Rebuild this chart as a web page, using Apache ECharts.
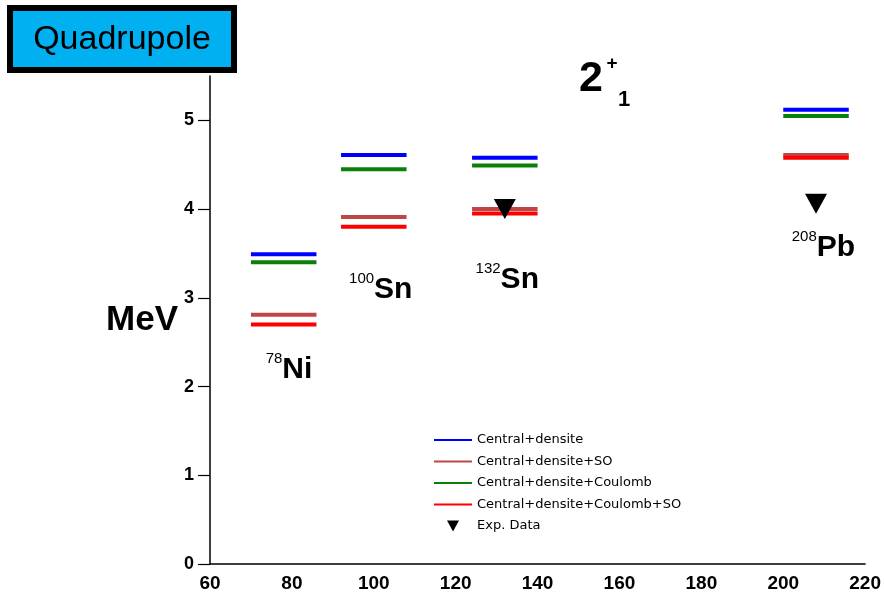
<!DOCTYPE html>
<html>
<head>
<meta charset="utf-8">
<title>Quadrupole 2+1</title>
<script src="https://cdn.jsdelivr.net/npm/echarts@6/dist/echarts.min.js"></script>
<style>
  html, body { margin: 0; padding: 0; background: #fff; }
  #chart { width: 884px; height: 594px; }
</style>
</head>
<body>
<div id="chart"></div>
<script>
// Mass number of each nucleus and its label parts
const massNumbers = [78, 100, 132, 208];
const nucleusSymbols = ['Ni', 'Sn', 'Sn', 'Pb'];
// Where each nucleus label sits (A, MeV)
const labelAnchorA = [79.3, 101.7, 132.6, 209.8];
const labelAnchorE = [2.23, 3.13, 3.24, 3.60];

// 2+1 excitation energies (MeV) for each model
const centralDensite = [3.49, 4.61, 4.58, 5.12];
const centralDensiteSO = [2.81, 3.91, 4.00, 4.61];
const centralDensiteCoulomb = [3.40, 4.45, 4.49, 5.05];
const centralDensiteCoulombSO = [2.70, 3.80, 3.95, 4.58];

// Experimental values
const expMassNumbers = [132, 208];
const expEnergies = [4.00, 4.06];

// Axis ticks
const xTicks = [60, 80, 100, 120, 140, 160, 180, 200, 220];
const yTicks = [0, 1, 2, 3, 4, 5];

const modelNames = [
  'Central+densite',
  'Central+densite+SO',
  'Central+densite+Coulomb',
  'Central+densite+Coulomb+SO'
];
const modelValues = [centralDensite, centralDensiteSO, centralDensiteCoulomb, centralDensiteCoulombSO];
const modelColors = ['#0000ff', '#bf4646', '#0a800a', '#ff0000'];
const expName = 'Exp. Data';

const HALF_WIDTH = 8; // half length of a level bar, in mass units
const FONT = '"Liberation Sans", Arial, Helvetica, sans-serif';

function levelBars(params, api) {
  const a = api.coord([api.value(0) - HALF_WIDTH, api.value(1)]);
  const b = api.coord([api.value(0) + HALF_WIDTH, api.value(1)]);
  return {
    type: 'line',
    shape: { x1: a[0], y1: a[1], x2: b[0], y2: b[1] },
    style: { stroke: api.visual('color'), lineWidth: 4 }
  };
}

const series = modelNames.map((name, i) => ({
  name: name,
  type: 'custom',
  renderItem: levelBars,
  itemStyle: { color: modelColors[i] },
  encode: { x: 0, y: 1 },
  data: massNumbers.map((a, k) => [a, modelValues[i][k]]),
  silent: true,
  z: 2 + i
}));

series.push({
  name: expName,
  type: 'scatter',
  symbol: 'triangle',
  symbolRotate: 180,
  symbolSize: [22, 20],
  itemStyle: { color: '#000', opacity: 1 },
  data: expMassNumbers.map((a, k) => [a, expEnergies[k]]),
  silent: true,
  z: 10
});

series.push({
  name: 'nuclei',
  type: 'scatter',
  symbolSize: 0,
  silent: true,
  itemStyle: { color: '#000', opacity: 1 },
  data: massNumbers.map((a, k) => [labelAnchorA[k], labelAnchorE[k], String(a), nucleusSymbols[k]]),
  label: {
    show: true,
    position: 'inside',
    color: '#000',
    formatter: p => `{sup|${p.data[2]}}{main|${p.data[3]}}`,
    rich: {
      sup: { fontSize: 15, fontFamily: FONT, color: '#000', lineHeight: 15, verticalAlign: 'top' },
      main: { fontSize: 30, fontWeight: 'bold', fontFamily: FONT, color: '#000', lineHeight: 30, padding: [7, 0, 0, 0] }
    }
  },
  z: 11
});

const lineIcon = 'path://M0,0H38V2H0Z';
const triIcon = 'path://M0,0H12L6,11Z';

const option = {
  animation: false,
  backgroundColor: '#fff',
  grid: { left: 210, right: 16, top: 76, bottom: 30 },
  legend: {
    orient: 'vertical',
    left: 434,
    top: 433,
    padding: 0,
    itemWidth: 38,
    itemHeight: 11,
    itemGap: 7.5,
    selectedMode: false,
    textStyle: { fontFamily: '"DejaVu Sans", sans-serif', fontSize: 13, color: '#000', lineHeight: 14 },
    data: modelNames.map(n => ({ name: n, icon: lineIcon })).concat([{ name: expName, icon: triIcon }])
  },
  xAxis: {
    type: 'value',
    min: 60,
    max: 220,
    interval: 20,
    axisLine: { show: true, onZero: false, lineStyle: { color: '#000', width: 1.5 } },
    axisTick: { show: false },
    splitLine: { show: false },
    axisLabel: {
      margin: 10,
      color: '#000',
      fontSize: 19,
      fontWeight: 'bold',
      fontFamily: FONT,
      customValues: xTicks
    }
  },
  yAxis: {
    type: 'value',
    min: 0,
    max: 5.5,
    interval: 1,
    name: 'MeV',
    nameLocation: 'middle',
    nameRotate: 0,
    nameGap: 32,
    nameTextStyle: { fontSize: 35, fontWeight: 'bold', fontFamily: FONT, color: '#000' },
    axisLine: { show: true, lineStyle: { color: '#000', width: 1.5 } },
    axisTick: { show: true, length: 12, lineStyle: { color: '#000', width: 1.2 }, customValues: yTicks },
    splitLine: { show: false },
    axisLabel: {
      margin: 16,
      color: '#000',
      fontSize: 18,
      fontWeight: 'bold',
      fontFamily: FONT,
      customValues: yTicks
    }
  },
  graphic: [
    {
      type: 'rect',
      shape: { x: 10, y: 8, width: 224, height: 62 },
      style: { fill: '#00b0f0', stroke: '#000', lineWidth: 6 },
      z: 100
    },
    {
      type: 'text',
      x: 122,
      y: 40,
      style: { text: 'Quadrupole', font: '34px ' + FONT, fill: '#000', align: 'center', verticalAlign: 'middle' },
      z: 101
    },
    {
      type: 'text',
      x: 591,
      y: 79,
      style: { text: '2', font: 'bold 43px ' + FONT, fill: '#000', align: 'center', verticalAlign: 'middle' },
      z: 101
    },
    {
      type: 'text',
      x: 612,
      y: 64,
      style: { text: '+', font: 'bold 19px ' + FONT, fill: '#000', align: 'center', verticalAlign: 'middle' },
      z: 101
    },
    {
      type: 'text',
      x: 624,
      y: 100,
      style: { text: '1', font: 'bold 22px ' + FONT, fill: '#000', align: 'center', verticalAlign: 'middle' },
      z: 101
    }
  ],
  series: series
};

const chart = echarts.init(document.getElementById('chart'), null, { renderer: 'canvas' });
chart.setOption(option);
</script>
</body>
</html>
